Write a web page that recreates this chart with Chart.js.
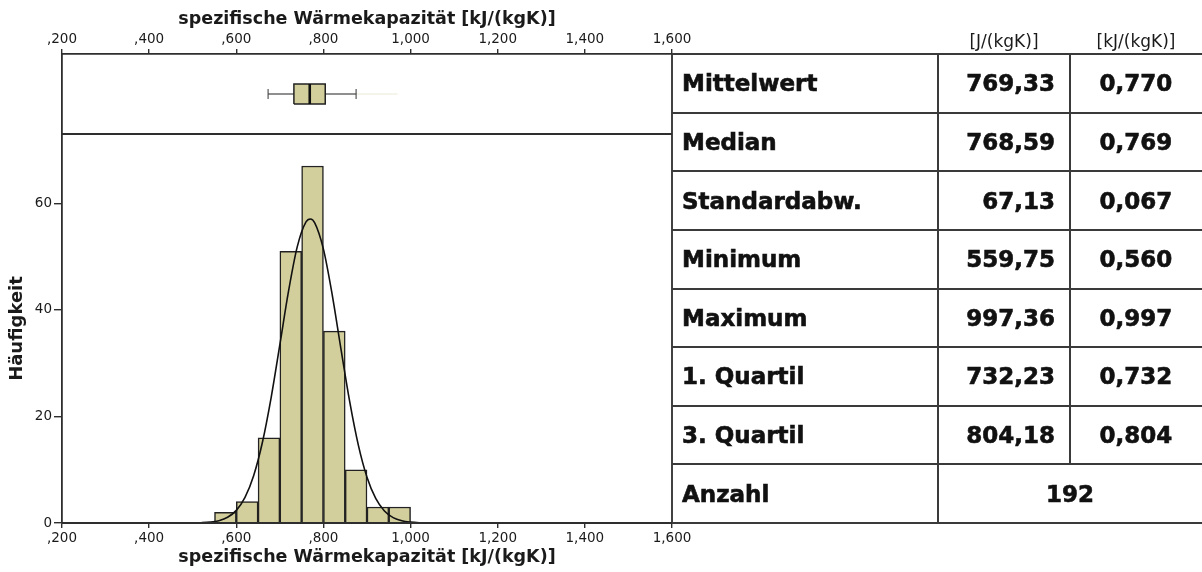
<!DOCTYPE html>
<html>
<head>
<meta charset="utf-8">
<script src="https://cdn.jsdelivr.net/npm/chart.js@4.4.1/dist/chart.umd.min.js"></script>
<style>
html,body{margin:0;padding:0;background:#fff;}
#wrap{position:relative;width:1202px;height:572px;overflow:hidden;background:#fff;}
#chart{position:absolute;left:0;top:0;}
.hl{position:absolute;height:2px;background:#3a3a3a;}
.vl{position:absolute;width:2px;background:#3a3a3a;}
.cell{position:absolute;display:flex;align-items:center;font-family:"DejaVu Sans",sans-serif;font-weight:bold;font-size:23px;color:#111;white-space:nowrap;box-sizing:border-box;-webkit-text-stroke:0.6px #111;}
.hdr{position:absolute;font-family:"DejaVu Sans",sans-serif;font-size:17px;color:#1a1a1a;transform:translate(-50%,-50%);white-space:nowrap;}
</style>
</head>
<body>
<div id="wrap">
<canvas id="chart" width="1202" height="572"></canvas>
<div id="table"></div>
</div>
<script>
// ---------- data ----------
const binCenters = [575, 625, 675, 725, 775, 825, 875, 925, 975];
const binCounts  = [2, 4, 16, 51, 67, 36, 10, 3, 3];

const curveX = [500, 520, 540, 560, 580, 600, 620, 640, 660, 680, 700, 720, 740, 760, 770, 780, 800, 820, 840, 860, 880, 900, 920, 940, 960, 980, 1000, 1020, 1040];
const curveY = [0.02, 0.06, 0.17, 0.44, 1.07, 2.37, 4.81, 8.92, 15.15, 23.54, 33.47, 43.55, 51.86, 56.50, 57.05, 56.33, 51.40, 42.91, 32.78, 22.91, 14.66, 8.58, 4.60, 2.25, 1.01, 0.41, 0.16, 0.05, 0.02];

// lower whisker, Q1, median, Q3, upper whisker
const boxValues = [673, 732.23, 768.59, 804.18, 875];
const faintWhisker = [875, 970];

const xTickValues = [200, 400, 600, 800, 1000, 1200, 1400, 1600];
const xTickLabels = [',200', ',400', ',600', ',800', '1,000', '1,200', '1,400', '1,600'];
const yTickValues = [0, 20, 40, 60];
const yTickLabels = ['0', '20', '40', '60'];

const statLabels = ['Mittelwert', 'Median', 'Standardabw.', 'Minimum', 'Maximum', '1. Quartil', '3. Quartil', 'Anzahl'];
const statJ  = ['769,33', '768,59', '67,13', '559,75', '997,36', '732,23', '804,18'];
const statKJ = ['0,770', '0,769', '0,067', '0,560', '0,997', '0,732', '0,804'];
const statCount = '192';
const unitLabels = ['[J/(kgK)]', '[kJ/(kgK)]'];
const axisTitle = 'spezifische Wärmekapazität [kJ/(kgK)]';
const yTitle = 'Häufigkeit';

// ---------- styling ----------
const FONT = '"DejaVu Sans", sans-serif';
const INK = '#1a1a1a';
const LINE = '#2e2e2e';
const FILL = '#d3cf9c';
const EDGE = '#222222';
const BH = 0.5;   // half box height (box-panel units)
const CH = 0.25;  // half cap height

const [wLo, q1, med, q3, wHi] = boxValues;
const pt = (x, y) => ({x, y});
const lineDs = (data, color, width, order, extra) => Object.assign({
  type: 'line', data, xAxisID: 'x', yAxisID: 'yBox', borderColor: color, borderWidth: width,
  pointRadius: 0, tension: 0, fill: false, order
}, extra || {});

const datasets = [
  { type: 'bar', data: binCenters.map((x, i) => pt(x, binCounts[i])), xAxisID: 'x', yAxisID: 'y',
    backgroundColor: FILL, borderColor: EDGE, borderWidth: 1.5, barPercentage: 1, categoryPercentage: 1, order: 3 },
  { type: 'line', data: curveX.map((x, i) => pt(x, curveY[i])), xAxisID: 'x', yAxisID: 'y',
    borderColor: '#111', borderWidth: 1.6, pointRadius: 0, cubicInterpolationMode: 'monotone', fill: false, order: 1 },
  lineDs([pt(faintWhisker[0], 0), pt(faintWhisker[1], 0)], '#ebead6', 1, 9),
  lineDs([pt(wLo, 0), pt(q1, 0)], '#444', 1.2, 8),
  lineDs([pt(q3, 0), pt(wHi, 0)], '#444', 1.2, 8),
  lineDs([pt(wLo, -CH), pt(wLo, CH)], '#555', 1.2, 8),
  lineDs([pt(wHi, -CH), pt(wHi, CH)], '#555', 1.2, 8),
  lineDs([pt(q1, -BH), pt(q3, -BH), pt(q3, BH), pt(q1, BH), pt(q1, -BH)], EDGE, 1.5, 6,
         { fill: 'shape', backgroundColor: FILL }),
  lineDs([pt(med, -BH), pt(med, BH)], '#111', 2.6, 5)
];

const tickFont = {family: FONT, size: 13.5};
const fixTicks = values => scale => { scale.ticks = values.map(v => ({value: v})); };

const framePlugin = {
  id: 'frame',
  afterDatasetsDraw(chart) {
    const {ctx, chartArea: a, scales} = chart;
    ctx.save();
    ctx.strokeStyle = LINE;
    ctx.lineWidth = 1.8;
    ctx.beginPath();
    ctx.moveTo(a.right, a.top); ctx.lineTo(a.right, a.bottom);
    ctx.moveTo(a.left, scales.yBox.bottom); ctx.lineTo(a.right, scales.yBox.bottom);
    ctx.moveTo(a.left, a.bottom); ctx.lineTo(a.right, a.bottom);
    ctx.stroke();
    ctx.restore();
  }
};

const xCommon = {
  type: 'linear', min: 200, max: 1600, offset: false,
  afterBuildTicks: fixTicks(xTickValues),
  ticks: {stepSize: 200, callback: (v, i) => xTickLabels[i], font: tickFont, color: INK, maxRotation: 0, autoSkip: false},
  grid: {display: true, offset: false, drawOnChartArea: false, drawTicks: true, tickLength: 5, color: LINE, lineWidth: 1.4},
  border: {display: true, color: LINE, width: 1.8}
};

new Chart(document.getElementById('chart'), {
  type: 'bar',
  data: {datasets},
  options: {
    responsive: false, animation: false, devicePixelRatio: 1,
    layout: {padding: {left: 0, right: 530, top: 0, bottom: 0}},
    plugins: {legend: {display: false}, tooltip: {enabled: false}},
    scales: {
      x: Object.assign({}, xCommon, {
        position: 'bottom',
        afterFit: s => { s.height = 49; },
        ticks: Object.assign({}, xCommon.ticks, {padding: 2}),
        title: {display: true, text: axisTitle, font: {family: FONT, size: 17.5, weight: 'bold'}, color: INK, padding: {top: 0, bottom: 4}}
      }),
      xTop: Object.assign({}, xCommon, {
        position: 'top',
        afterFit: s => { s.height = 54; },
        ticks: Object.assign({}, xCommon.ticks, {padding: 1}),
        title: {display: true, text: axisTitle, font: {family: FONT, size: 17.5, weight: 'bold'}, color: INK, padding: {top: 9, bottom: 0}}
      }),
      y: {
        type: 'linear', position: 'left', stack: 'panels', stackWeight: 389, min: 0, max: 73,
        afterBuildTicks: fixTicks(yTickValues),
        afterFit: s => { s.width = 62; },
        ticks: {callback: (v, i) => yTickLabels[i], font: tickFont, color: INK, padding: 2},
        grid: {display: true, offset: false, drawOnChartArea: false, drawTicks: true, tickLength: 8, color: LINE, lineWidth: 1.4},
        border: {display: true, color: LINE, width: 1.8},
        title: {display: true, text: yTitle, font: {family: FONT, size: 18, weight: 'bold'}, color: INK, padding: {top: 7, bottom: 0}}
      },
      yBox: {
        type: 'linear', position: 'left', stack: 'panels', stackWeight: 80, min: -2, max: 2,
        afterFit: s => { s.width = 62; },
        ticks: {display: false}, grid: {display: false},
        border: {display: true, color: LINE, width: 1.8}
      }
    }
  },
  plugins: [framePlugin]
});

// ---------- statistics table ----------
const tbl = document.getElementById('table');
const TL = 672, TR = 1202, TT = 54, RH = 58.625, C1 = 938, C2 = 1070;
function add(cls, style, text) {
  const d = document.createElement('div');
  d.className = cls;
  Object.assign(d.style, style);
  if (text !== undefined) d.textContent = text;
  tbl.appendChild(d);
  return d;
}
const nRows = statLabels.length;
for (let i = 0; i <= nRows; i++) {
  add('hl', {left: TL + 'px', width: (TR - TL) + 'px', top: (Math.round(TT + i * RH) - 1) + 'px'});
}
add('vl', {left: (C1 - 1) + 'px', top: TT + 'px', height: Math.round(nRows * RH) + 'px'});
add('vl', {left: (C2 - 1) + 'px', top: TT + 'px', height: Math.round((nRows - 1) * RH) + 'px'});

statLabels.forEach((lab, i) => {
  const top = TT + i * RH;
  add('cell', {left: (TL + 10) + 'px', top: top + 'px', width: (C1 - TL - 10) + 'px', height: RH + 'px', justifyContent: 'flex-start'}, lab);
  if (i < statJ.length) {
    add('cell', {left: C1 + 'px', top: top + 'px', width: (C2 - C1) + 'px', height: RH + 'px', justifyContent: 'flex-end', paddingRight: '15px'}, statJ[i]);
    add('cell', {left: C2 + 'px', top: top + 'px', width: (TR - C2) + 'px', height: RH + 'px', justifyContent: 'center'}, statKJ[i]);
  } else {
    add('cell', {left: C1 + 'px', top: top + 'px', width: (TR - C1) + 'px', height: RH + 'px', justifyContent: 'center'}, statCount);
  }
});
add('hdr', {left: ((C1 + C2) / 2) + 'px', top: '41px'}, unitLabels[0]);
add('hdr', {left: ((C2 + TR) / 2) + 'px', top: '41px'}, unitLabels[1]);
</script>
</body>
</html>
